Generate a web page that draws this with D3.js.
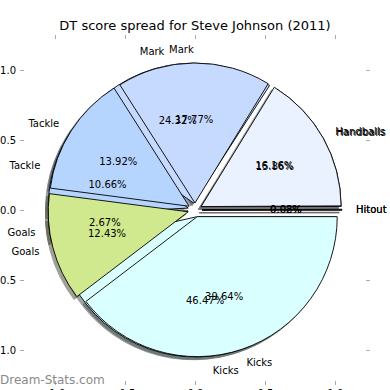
<!DOCTYPE html>
<html>
<head>
<meta charset="utf-8">
<script src="https://cdn.jsdelivr.net/npm/d3@7"></script>
<style>
  body { margin: 0; background: #fff; }
  svg { display: block; font-family: "DejaVu Sans", sans-serif; }
</style>
</head>
<body>
<div id="chart"></div>
<script>
// wedge order follows the plot: counter-clockwise from 3 o'clock
const categories = ["Hitout", "Handballs", "Mark", "Tackle", "Goals", "Kicks"];
const colours = ["#c8c8c8", "#eaf1ff", "#c6d9ff", "#b5d5ff", "#d0e98e", "#daffff"];
const backValues = [0.02, 15.86, 24.32, 10.66, 2.67, 46.47];   // drawn first
const frontValues = [0.08, 16.16, 17.77, 13.92, 12.43, 39.64]; // drawn on top
const explode = [0.05, 0.05, 0.05, 0.05, 0.05, 0.05];
const tickValues = [-1.0, -0.5, 0.0, 0.5, 1.0];

var width = 390, height = 390;

var svg = d3.select("#chart").append("svg")
    .attr("width", width)
    .attr("height", height);

// axes are square, both from -1.25 to 1.25
var x = d3.scaleLinear().domain([-1.25, 1.25]).range([20, 370]);
var y = d3.scaleLinear().domain([-1.25, 1.25]).range([385, 35]);
var r = x(1) - x(0);

// title
svg.append("text")
    .attr("x", width / 2)
    .attr("y", 30)
    .attr("text-anchor", "middle")
    .style("font-size", "13px")
    .text("DT score spread for Steve Johnson (2011)");

// ticks only, no spines
function styleAxis(g) {
    g.select(".domain").remove();
    g.selectAll(".tick line").attr("stroke", "#aaa");
    g.selectAll(".tick text").attr("fill", "#000").style("font-size", "10px")
        .style("font-family", "DejaVu Sans, sans-serif");
}
var fmt = function(d) { return d.toFixed(1); };

svg.append("g").attr("transform", "translate(" + x(-1.25) + ",0)")
    .call(d3.axisLeft(y).tickValues(tickValues).tickFormat(fmt).tickSize(-4).tickPadding(4))
    .call(styleAxis);
svg.append("g").attr("transform", "translate(" + x(1.25) + ",0)")
    .call(d3.axisRight(y).tickValues(tickValues).tickFormat("").tickSize(-4))
    .call(styleAxis);
svg.append("g").attr("transform", "translate(0," + y(1.25) + ")")
    .call(d3.axisTop(x).tickValues(tickValues).tickFormat("").tickSize(-4))
    .call(styleAxis);
svg.append("g").attr("transform", "translate(0," + y(-1.25) + ")")
    .call(d3.axisBottom(x).tickValues(tickValues).tickFormat(fmt).tickSize(-4).tickPadding(5))
    .call(styleAxis);

// pie layout: start at 3 o'clock, go counter-clockwise
var pie = d3.pie().sort(null)
    .startAngle(Math.PI / 2)
    .endAngle(Math.PI / 2 - 2 * Math.PI);
var arc = d3.arc().innerRadius(0).outerRadius(r);

function layout(values) {
    return pie(values).map(function(d, i) {
        var a = (d.startAngle + d.endAngle) / 2;
        d.dx = Math.sin(a);
        d.dy = -Math.cos(a);
        d.cx = x(0) + explode[i] * r * d.dx;
        d.cy = y(0) + explode[i] * r * d.dy;
        d.name = categories[i];
        d.color = colours[i];
        return d;
    });
}
var backArcs = layout(backValues);
var frontArcs = layout(frontValues);

function shade(c) {
    c = d3.rgb(c);
    return d3.rgb(c.r * 0.3, c.g * 0.3, c.b * 0.3);
}

// shadows sit under every wedge
var shadowLayer = svg.append("g");
[backArcs, frontArcs].forEach(function(arcs) {
    shadowLayer.selectAll(null)
        .data(arcs)
        .enter().append("path")
        .attr("d", arc)
        .attr("transform", function(d) {
            return "translate(" + (d.cx - 0.02 * r) + "," + (d.cy + 0.02 * r) + ")";
        })
        .attr("fill", function(d) { return shade(d.color); })
        .attr("stroke", function(d) { return shade(d.color); })
        .attr("opacity", 0.5);
});

var wedgeLayer = svg.append("g");
[backArcs, frontArcs].forEach(function(arcs) {
    wedgeLayer.append("g").selectAll("path")
        .data(arcs)
        .enter().append("path")
        .attr("d", arc)
        .attr("transform", function(d) { return "translate(" + d.cx + "," + d.cy + ")"; })
        .attr("fill", function(d) { return d.color; })
        .attr("stroke", "#000")
        .attr("stroke-width", 0.9);
});

// category labels and percentages
var textLayer = svg.append("g").style("font-size", "10px");
[backArcs, frontArcs].forEach(function(arcs) {
    textLayer.append("g").selectAll("text")
        .data(arcs)
        .enter().append("text")
        .attr("x", function(d) { return d.cx + 1.1 * r * d.dx; })
        .attr("y", function(d) { return d.cy + 1.1 * r * d.dy; })
        .attr("dy", "0.35em")
        .attr("text-anchor", function(d) { return d.cx + 1.1 * r * d.dx > x(0) ? "start" : "end"; })
        .text(function(d) { return d.name; });

    textLayer.append("g").selectAll("text")
        .data(arcs)
        .enter().append("text")
        .attr("x", function(d) { return d.cx + 0.6 * r * d.dx; })
        .attr("y", function(d) { return d.cy + 0.6 * r * d.dy; })
        .attr("dy", "0.35em")
        .attr("text-anchor", "middle")
        .text(function(d) { return d.value.toFixed(2) + "%"; });
});

// watermark
svg.append("text")
    .attr("x", 0)
    .attr("y", 384)
    .attr("fill", "#8a8a8a")
    .style("font-size", "12px")
    .text("Dream-Stats.com");
</script>
</body>
</html>
